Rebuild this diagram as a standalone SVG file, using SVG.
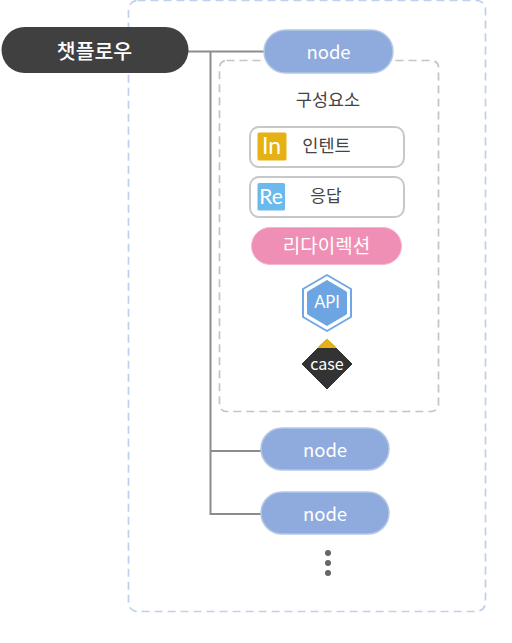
<svg xmlns="http://www.w3.org/2000/svg" width="512" height="643" viewBox="0 0 512 643">
<style>
text{font-family:"Noto Sans CJK KR","Noto Sans",sans-serif;text-anchor:middle}
.w{fill:#fff}
.l{font-family:"Lato","Noto Sans",sans-serif;font-weight:400}
.d{fill:#444}
.n{fill:#8faadc;stroke:#b4c7e7;stroke-width:1.5}
.c{fill:none;stroke:#8c8c8c;stroke-width:2}
.box{fill:#fff;stroke:#c8c8c8;stroke-width:2}
</style>
<rect width="512" height="643" fill="#fff"/>
<rect id="outer" x="128.500" y="0.500" width="357" height="611" rx="9" fill="none" stroke="#bfd0ec" stroke-width="1.700" stroke-dasharray="8 5"/>
<rect id="inner" x="219.500" y="60.500" width="219" height="351" rx="7" fill="none" stroke="#c4c4c4" stroke-width="1.700" stroke-dasharray="8 5"/>
<g id="connectors">
<path class="c" d="M188 51.500H264M210.500 51.500V514H261M210.500 451H261"/>
</g>
<g id="chatflow"><rect x="1.500" y="27" width="187" height="46" rx="23" fill="#404040"/><text class="w" x="94.500" y="58.500" font-size="20.500" font-weight="500">챗플로우</text></g>
<g id="node1"><rect class="n" x="264" y="30" width="129" height="43" rx="21.500"/><text class="w" x="328.500" y="58.500" font-size="18.500">node</text></g>
<g id="title"><text x="328" y="106" font-size="17.500" fill="#444">구성요소</text></g>
<g id="intent"><rect class="box" x="250" y="127" width="154" height="40" rx="9"/><rect x="257.500" y="132.500" width="29" height="28" rx="1.500" fill="#e6b114"/><text class="w l" x="271.500" y="154" font-size="23">In</text><text class="d" x="326.500" y="151.500" font-size="17.500">인텐트</text></g>
<g id="response"><rect class="box" x="250" y="177" width="154" height="40" rx="9"/><rect x="257.500" y="183" width="27.500" height="27.500" rx="1.500" fill="#6cb9ee"/><text class="w l" x="271" y="204" font-size="21">Re</text><text class="d" x="326" y="202" font-size="17">응답</text></g>
<g id="redirect"><rect x="251.500" y="227.500" width="150" height="37" rx="18.500" fill="#f08fb5" stroke="#f5b5cf" stroke-width="1"/><text class="w" x="326.500" y="253" font-size="19">리다이렉션</text></g>
<g id="api"><polygon points="327,275 351,289 351,317 327,331 303,317 303,289" fill="#fff" stroke="#6fa8e4" stroke-width="2" stroke-linejoin="round"/><polygon points="327,280.500 346.500,292 346.500,314 327,325.500 307.500,314 307.500,292" fill="#6ca5e2" stroke="#6ca5e2" stroke-width="1" stroke-linejoin="round"/><text class="w l" x="327" y="308" font-size="16.500">API</text></g>
<g id="case"><polygon points="327,339 352,364 327,389 302,364" fill="#333" stroke="#333" stroke-width="1" stroke-linejoin="round"/><polygon points="327,339 336,347.500 318,347.500" fill="#e6b114" stroke="#e6b114" stroke-width="1" stroke-linejoin="round"/><text class="w" x="327" y="370" font-size="16">case</text></g>
<g id="node2"><rect class="n" x="261" y="428" width="128" height="42" rx="21"/><text class="w" x="325" y="456.500" font-size="18.500">node</text></g>
<g id="node3"><rect class="n" x="261" y="492" width="128" height="42" rx="21"/><text class="w" x="325" y="520.500" font-size="18.500">node</text></g>
<g id="more" fill="#666"><circle cx="328" cy="553" r="3"/><circle cx="328" cy="563" r="3"/><circle cx="328" cy="573" r="3"/></g>
</svg>
